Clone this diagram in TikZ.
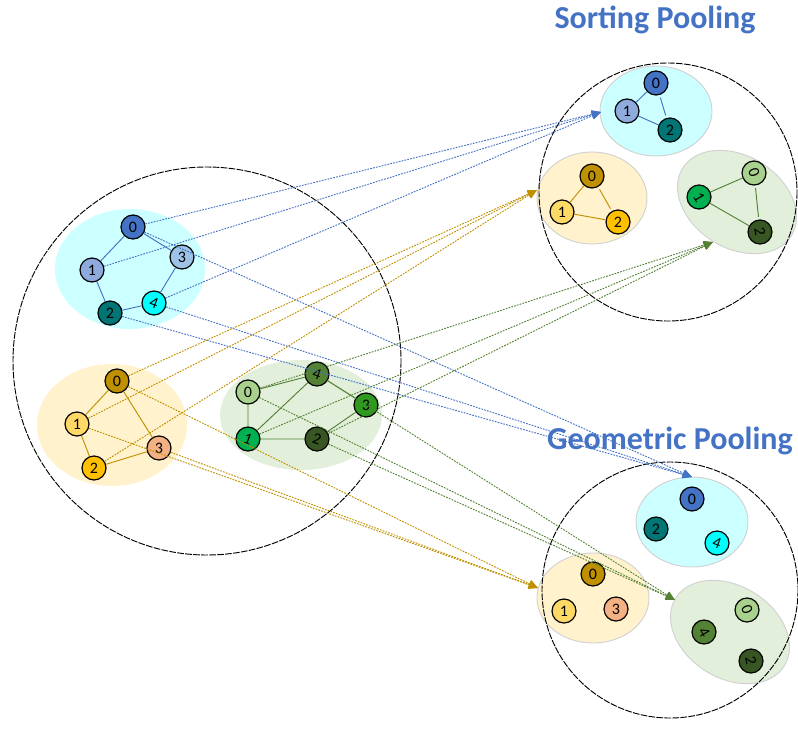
\documentclass[tikz,border=0pt]{standalone}
\usepackage{fontspec}
\setmainfont{Carlito}
\usetikzlibrary{arrows.meta}
\definecolor{bA}{HTML}{4472C4}
\definecolor{bB}{HTML}{8FAADC}
\definecolor{bC}{HTML}{9DC3E6}
\definecolor{bD}{HTML}{007575}
\definecolor{bE}{HTML}{00FFFF}
\definecolor{oA}{HTML}{BF9000}
\definecolor{oB}{HTML}{FFD966}
\definecolor{oC}{HTML}{FFC000}
\definecolor{oD}{HTML}{F4B183}
\definecolor{gA}{HTML}{A9D18E}
\definecolor{gB}{HTML}{548235}
\definecolor{gC}{HTML}{2E9A1E}
\definecolor{gD}{HTML}{00B050}
\definecolor{gE}{HTML}{375623}
\definecolor{bF}{HTML}{CCFFFF}
\definecolor{oF}{HTML}{FFF2CC}
\definecolor{gF}{HTML}{E2EFDA}
\definecolor{title}{HTML}{4472C4}
\begin{document}
\begin{tikzpicture}[x=0.75pt,y=-0.75pt,
  gnode/.style={circle,draw=black,line width=0.9pt,minimum size=18pt,inner sep=0pt,font=\fontsize{12}{12}\selectfont},
  bigc/.style={draw=black,line width=0.7pt,dash pattern=on 5pt off 1pt},
  grpR/.style={draw=black!18,line width=0.7pt},
  gedge/.style={line width=0.7pt},
  sedge/.style={line width=0.7pt,shorten <=2pt,shorten >=2pt},
  conn/.style={line width=0.7pt,dash pattern=on 1.3pt off 0.9pt,-{Triangle[length=7pt,width=6pt]}},
  ttl/.style={font=\bfseries\fontsize{24}{28}\selectfont,text=title}
]
\useasboundingbox (0,0) rectangle (798,728);

% group ellipses, left
\fill[bF] (130,269) ellipse [x radius=75, y radius=60];
\fill[oF] (112,425) ellipse [x radius=75, y radius=61];
\fill[gF] (301,415) ellipse [x radius=81, y radius=55];

% group ellipses, right
\filldraw[fill=bF,grpR] (656,111) ellipse [x radius=56, y radius=45];
\filldraw[fill=oF,grpR] (592,198) ellipse [x radius=55, y radius=46];
\filldraw[fill=gF,grpR,rotate around={-32:(737,202)}] (737,202) ellipse [x radius=64, y radius=46];
\filldraw[fill=bF,grpR] (692,522) ellipse [x radius=56, y radius=45];
\filldraw[fill=oF,grpR] (593,598) ellipse [x radius=56, y radius=45];
\filldraw[fill=gF,grpR,rotate around={-32:(730,632)}] (730,632) ellipse [x radius=64, y radius=46];

% big dashed circles
\draw[bigc] (207,361) circle [radius=194];
\draw[bigc] (668,192) circle [radius=129];
\draw[bigc] (670,590) circle [radius=128];

% titles
\node[ttl] (tS) at (655,20) {Sorting Pooling};
\node[ttl] (tG) at (670,441) {Geometric Pooling};

% left graph nodes
\node[gnode,fill=bA] (b0) at (133,227) {0};
\node[gnode,fill=bB] (b1) at (92,270) {1};
\node[gnode,fill=bC] (b3) at (182,257) {3};
\node[gnode,fill=bD] (b2) at (110,313) {2};
\node[gnode,fill=bE] (b4) at (154,303) {\rotatebox{-20}{4}};

\node[gnode,fill=oA] (o0) at (117,381) {0};
\node[gnode,fill=oB] (o1) at (77,424) {1};
\node[gnode,fill=oC] (o2) at (94,468) {2};
\node[gnode,fill=oD] (o3) at (159,448) {3};

\node[gnode,fill=gA] (g0) at (248,392) {0};
\node[gnode,fill=gB] (g4) at (317,374) {\rotatebox{-20}{4}};
\node[gnode,fill=gC] (g3) at (366,405) {3};
\node[gnode,fill=gD] (g1) at (248,439) {\rotatebox{-20}{1}};
\node[gnode,fill=gE] (g2) at (317,439) {\rotatebox{-20}{2}};

% right graph nodes (sorting)
\node[gnode,fill=bA] (sb0) at (656,83) {0};
\node[gnode,fill=bB] (sb1) at (627,111) {1};
\node[gnode,fill=bD] (sb2) at (670,130) {2};
\node[gnode,fill=oA] (so0) at (592,176) {0};
\node[gnode,fill=oB] (so1) at (562,212) {1};
\node[gnode,fill=oC] (so2) at (618,222) {2};
\node[gnode,fill=gA] (sg0) at (754,173) {\rotatebox{-70}{0}};
\node[gnode,fill=gD] (sg1) at (699,197) {\rotatebox{-60}{1}};
\node[gnode,fill=gE] (sg2) at (760,232) {\rotatebox{-80}{2}};

% right graph nodes (geometric)
\node[gnode,fill=bA] (pb0) at (692,499) {0};
\node[gnode,fill=bD] (pb2) at (656,529) {2};
\node[gnode,fill=bE] (pb4) at (717,543) {\rotatebox{-20}{4}};
\node[gnode,fill=oA] (po0) at (593,574) {0};
\node[gnode,fill=oB] (po1) at (564,611) {1};
\node[gnode,fill=oD] (po3) at (616,609) {3};
\node[gnode,fill=gA] (pg0) at (747,610) {\rotatebox{-70}{0}};
\node[gnode,fill=gB] (pg4) at (704,632) {\rotatebox{-60}{4}};
\node[gnode,fill=gE] (pg2) at (751,661) {\rotatebox{-80}{2}};

% arrow tips
\coordinate (tSB) at (601,112);
\coordinate (tSO) at (537,190);
\coordinate (tSG) at (713,242);
\coordinate (tGB) at (692,477);
\coordinate (tGO) at (538,588);
\coordinate (tGG) at (675,600);

% connectors
\draw[conn,bA] (b0) -- (tSB);
\draw[conn,bA] (b1) -- (tSB);
\draw[conn,bA] (b4) -- (tSB);
\draw[conn,bA] (b0) -- (tGB);
\draw[conn,bA] (b2) -- (tGB);
\draw[conn,bA] (b4) -- (tGB);

\draw[conn,oA] (o0) -- (tSO);
\draw[conn,oA] (o1) -- (tSO);
\draw[conn,oA] (o2) -- (tSO);
\draw[conn,oA] (o0) -- (tGO);
\draw[conn,oA] (o1) -- (tGO);
\draw[conn,oA] (o3) -- (tGO);

\draw[conn,gB] (g0) -- (tSG);
\draw[conn,gB] (g1) -- (tSG);
\draw[conn,gB] (g2) -- (tSG);
\draw[conn,gB] (g0) -- (tGG);
\draw[conn,gB] (g4) -- (tGG);
\draw[conn,gB] (g2) -- (tGG);

% edges
\draw[gedge,bA] (b0) -- (b1) (b0) -- (b3) (b1) -- (b2) (b2) -- (b4) (b4) -- (b3);
\draw[gedge,oA] (o0) -- (o1) (o1) -- (o2) (o2) -- (o3) (o0) -- (o3);
\draw[gedge,gB] (g0) -- (g4) (g0) -- (g1) (g1) -- (g4) (g1) -- (g2) (g4) -- (g3) (g3) -- (g2);

\draw[sedge,bA] (sb0) -- (sb1) (sb1) -- (sb2) (sb0) -- (sb2);
\draw[sedge,oA] (so0) -- (so1) (so1) -- (so2) (so0) -- (so2);
\draw[sedge,gB] (sg0) -- (sg1) (sg1) -- (sg2) (sg0) -- (sg2);
\end{tikzpicture}
\end{document}
